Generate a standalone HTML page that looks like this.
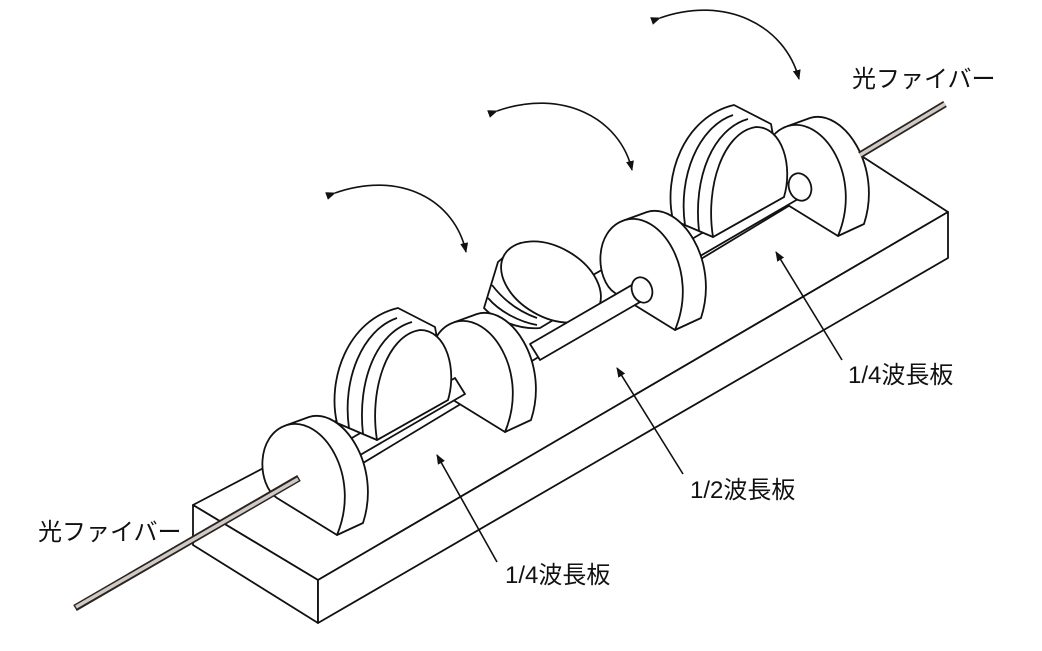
<!DOCTYPE html>
<html><head><meta charset="utf-8"><style>
html,body{margin:0;padding:0;background:#fff;}
svg{display:block;}
text{font-family:"Liberation Sans","Noto Sans CJK JP",sans-serif;font-size:24px;fill:#111;}
</style></head><body>
<svg width="1042" height="651" viewBox="0 0 1042 651" xmlns="http://www.w3.org/2000/svg">
<defs>
<marker id="ah" markerWidth="10" markerHeight="10" refX="9" refY="5" orient="auto" markerUnits="userSpaceOnUse">
<path d="M0,1 L10,5 L0,9 Z" fill="#111"/></marker>
<g id="disc" stroke="#111" stroke-width="1.8" fill="#fff" stroke-linejoin="round">
<path d="M-28,-118 C5,-128 45,-70 26,-12 L0,0 L-50,-110 Z"/>
<path d="M0,0 L-60,-37 C-80,-50 -82,-100 -50,-110 C-15,-120 25,-60 0,0 Z"/>
</g>
<g id="holder" stroke="#111" stroke-width="1.8" fill="#fff" stroke-linejoin="round">
<path d="M-40,-17 C-50,-60 -30,-120 21,-132 L58,-113 L71,-40 L0,0 Z"/>
<path d="M-28,-12 C-35,-60 -15,-110 20,-122" fill="none"/>
<path d="M-14,-6 C-20,-60 0,-108 35,-118" fill="none"/>
<path d="M0,0 C-8,-50 10,-105 43,-110 C70,-110 80,-70 71,-40 Z"/>
</g>
</defs>
<!-- base -->
<g stroke="#111" stroke-width="1.8" fill="#fff" stroke-linejoin="round">
<path d="M193,505 L860,155 L948,212 L318,580 Z"/>
<path d="M193,505 L318,580 L318,623 L193,545 Z"/>
<path d="M318,580 L948,212 L948,258 L318,623 Z"/>
</g>
<!-- rail -->
<path d="M320,430 L813,150 L840,175 L363,463 Z" stroke="#111" stroke-width="1.8" fill="#fff"/>
<g stroke="#111" stroke-width="1.8" fill="#fff" stroke-linejoin="round">
<use href="#disc" x="838" y="236"/>
<!-- rod B -->
<path d="M685,243 L795,179 L805,195 L695,259 Z"/>
<use href="#holder" x="713" y="237"/>
<ellipse cx="800" cy="187" rx="11" ry="14" transform="rotate(-20 800 187)"/>
<use href="#disc" x="675" y="330"/>
<!-- tilted half-wave plate -->
<path d="M498,262 L484,308 C495,320 520,330 540,328 L600,292 C590,270 560,245 520,243 Z"/>
<path d="M488,298 C500,312 520,322 537,325" fill="none"/>
<path d="M492,285 C505,302 520,312 537,318" fill="none"/>
<ellipse cx="551" cy="282" rx="54" ry="35" transform="rotate(30 551 282)"/>
<!-- rod A -->
<path d="M530,344 L637,282 L647,298 L540,360 Z"/>
<ellipse cx="642" cy="290" rx="10" ry="13" transform="rotate(-20 642 290)"/>
<use href="#disc" x="505" y="432"/>
<!-- rod C -->
<path d="M345,442 L455,378 L465,394 L355,458 Z"/>
<use href="#holder" x="377" y="440"/>
<use href="#disc" x="337" y="535"/>
</g>
<!-- fibers -->
<g stroke-linecap="butt">
<path d="M75,608 L299,478" stroke="#2a2320" stroke-width="7"/>
<path d="M76,607 L298,479" stroke="#cfcac6" stroke-width="3.5"/>
<path d="M860,155 L945,104" stroke="#2a2320" stroke-width="7"/>
<path d="M860,155 L945,104" stroke="#cfcac6" stroke-width="3.5"/>
</g>
<!-- arrows -->
<g fill="none" stroke="#111" stroke-width="1.6">
<path d="M335,193 C400,170 455,200 466,252" marker-start="url(#ah)" marker-end="url(#ah)"/>
<path d="M497,111 C562,88 620,118 632,170" marker-start="url(#ah)" marker-end="url(#ah)"/>
<path d="M660,18 C725,-5 785,25 799,79" marker-start="url(#ah)" marker-end="url(#ah)"/>
<path d="M497,562 L437,455" marker-end="url(#ah)"/>
<path d="M683,474 L617,368" marker-end="url(#ah)"/>
<path d="M842,360 L776,252" marker-end="url(#ah)"/>
</g>
<text x="38" y="540">光ファイバー</text>
<text x="852" y="87">光ファイバー</text>
<text x="505" y="583">1/4波長板</text>
<text x="690" y="498">1/2波長板</text>
<text x="848" y="383">1/4波長板</text>
</svg>
</body></html>
